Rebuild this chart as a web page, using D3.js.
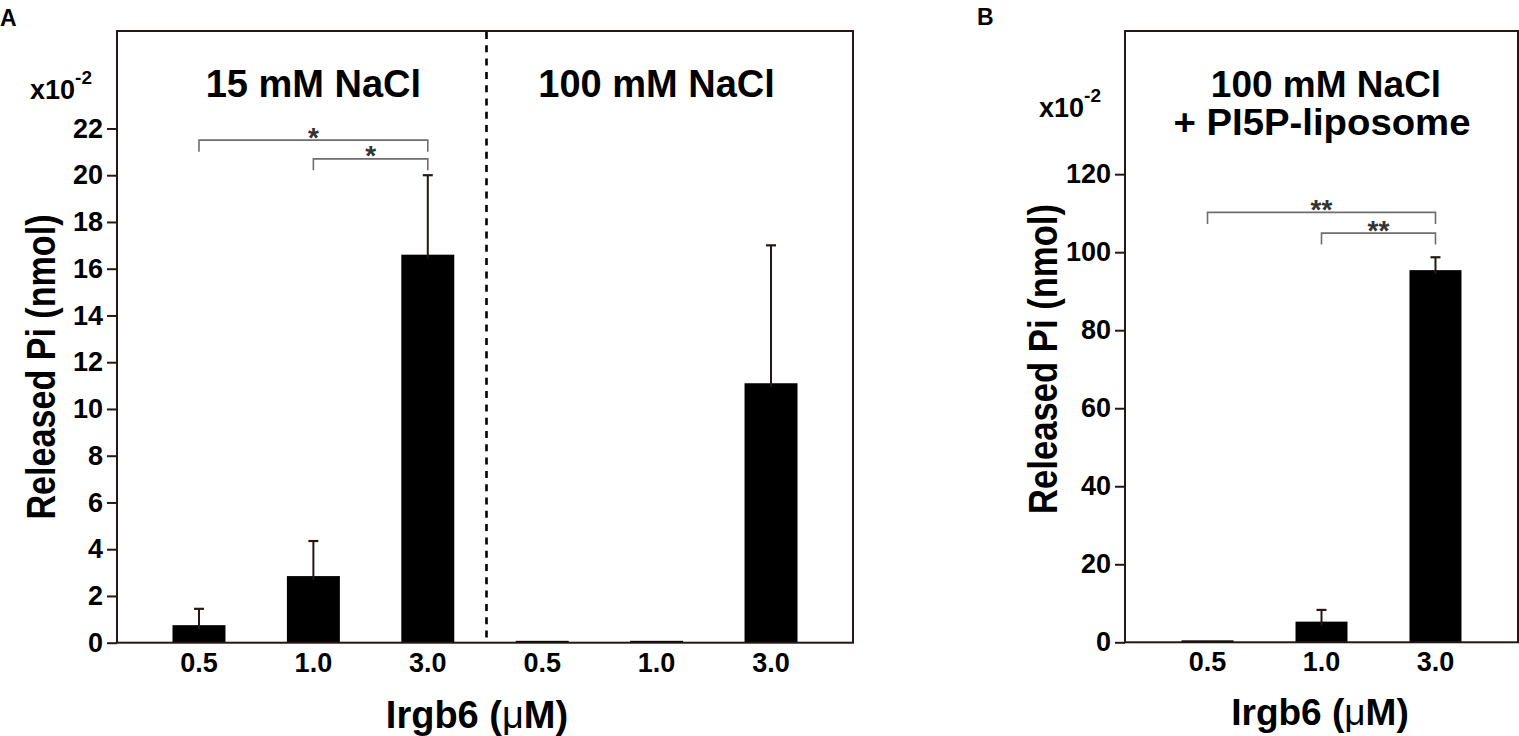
<!DOCTYPE html>
<html>
<head>
<meta charset="utf-8">
<script src="https://cdn.jsdelivr.net/npm/d3@7"></script>
<style>
  body { margin: 0; background: #fff; }
  text { font-family: Arial, "Liberation Sans", Helvetica, sans-serif; }
</style>
</head>
<body>
<svg id="fig" width="1519" height="736"></svg>
<script>
// panel A data (x10^-2 nmol)
const groupsA = ["15 mM NaCl", "15 mM NaCl", "15 mM NaCl", "100 mM NaCl", "100 mM NaCl", "100 mM NaCl"];
const dosesA = ["0.5", "1.0", "3.0", "0.5", "1.0", "3.0"];
const meanA = [0.75, 2.85, 16.6, 0.08, 0.08, 11.1];
const sdA = [0.7, 1.5, 3.4, 0, 0, 5.9];
const ticksA = [0, 2, 4, 6, 8, 10, 12, 14, 16, 18, 20, 22];
const bracketFromA = [0, 1];
const bracketToA = [2, 2];
const bracketLevelA = [21.5, 20.7];
const bracketLabelA = ["*", "*"];

// panel B data
const dosesB = ["0.5", "1.0", "3.0"];
const meanB = [0.5, 5.3, 95.4];
const sdB = [0, 3.0, 3.3];
const ticksB = [0, 20, 40, 60, 80, 100, 120];
const bracketFromB = [0, 1];
const bracketToB = [2, 2];
const bracketLevelB = [110.2, 104.9];
const bracketLabelB = ["**", "**"];

const ink = "#231815";
const svg = d3.select("#fig");

function panel(o) {
  const keys = o.doses.map((d, i) => i);
  const x = d3.scaleBand().domain(keys).range([o.left, o.right])
    .paddingInner(o.padIn).paddingOuter(o.padOut);
  const y = d3.scaleLinear().domain([0, o.ymax]).range([o.bottom, o.top]);
  const g = svg.append("g");

  // bars
  g.selectAll("rect.bar").data(o.mean).join("rect")
    .attr("class", "bar")
    .attr("x", (d, i) => x(i))
    .attr("width", x.bandwidth())
    .attr("y", d => y(d))
    .attr("height", d => y(0) - y(d))
    .attr("fill", "#000");

  // error bars (upper only)
  const eb = g.selectAll("g.err").data(o.mean.map((m, i) => [i, m, o.sd[i]]).filter(d => d[2] > 0))
    .join("g").attr("class", "err");
  eb.append("line")
    .attr("x1", d => x(d[0]) + x.bandwidth() / 2).attr("x2", d => x(d[0]) + x.bandwidth() / 2)
    .attr("y1", d => y(d[1]) + 4).attr("y2", d => y(d[1] + d[2]))
    .attr("stroke", ink).attr("stroke-width", 2);
  eb.append("line")
    .attr("x1", d => x(d[0]) + x.bandwidth() / 2 - 5).attr("x2", d => x(d[0]) + x.bandwidth() / 2 + 5)
    .attr("y1", d => y(d[1] + d[2])).attr("y2", d => y(d[1] + d[2]))
    .attr("stroke", ink).attr("stroke-width", 2.2);

  // frame
  g.append("rect")
    .attr("x", o.left).attr("y", o.top)
    .attr("width", o.right - o.left).attr("height", o.bottom - o.top)
    .attr("fill", "none").attr("stroke", ink).attr("stroke-width", 2);

  // y axis
  const ya = g.append("g").attr("transform", `translate(${o.left},0)`)
    .call(d3.axisLeft(y).tickValues(o.ticks).tickFormat(d3.format("d")).tickSize(10).tickPadding(4));
  ya.select(".domain").remove();
  ya.selectAll("line").attr("stroke", ink).attr("stroke-width", 2);
  ya.selectAll("text").attr("font-size", 27).attr("font-weight", "bold").attr("fill", "#000")
    .attr("font-family", "Arial, 'Liberation Sans', sans-serif");

  // x axis labels
  const xa = g.append("g").attr("transform", `translate(0,${o.bottom})`)
    .call(d3.axisBottom(x).tickSize(0).tickPadding(10).tickFormat(i => o.doses[i]));
  xa.select(".domain").remove();
  xa.selectAll("text").attr("font-size", 27).attr("font-weight", "bold").attr("fill", "#000")
    .attr("font-family", "Arial, 'Liberation Sans', sans-serif");

  // significance brackets
  o.bFrom.forEach((f, k) => {
    const x1 = x(f) + x.bandwidth() / 2, x2 = x(o.bTo[k]) + x.bandwidth() / 2;
    const yl = y(o.bLevel[k]);
    g.append("path")
      .attr("d", `M${x1},${yl + 11.5}V${yl}H${x2}V${yl + 11.5}`)
      .attr("fill", "none").attr("stroke", "#6e6e6e").attr("stroke-width", 1.6);
    g.append("text")
      .attr("x", (x1 + x2) / 2).attr("y", yl - 8 + 0.52 * 28)
      .attr("text-anchor", "middle").attr("font-size", 28).attr("font-weight", "bold").attr("fill", "#333")
      .text(o.bLabel[k]);
  });

  // y axis title
  g.append("text")
    .attr("transform", `translate(${o.ylabX},${o.ylabY}) rotate(-90)`)
    .attr("text-anchor", "middle").attr("font-size", 41).attr("font-weight", "bold")
    .attr("textLength", o.ylabLen).attr("lengthAdjust", "spacingAndGlyphs")
    .text("Released Pi (nmol)");

  // exponent note
  const ex = g.append("text").attr("x", o.expX).attr("y", o.expY)
    .attr("font-size", 27).attr("font-weight", "bold");
  ex.append("tspan").text("x10");
  ex.append("tspan").attr("dy", -15).attr("font-size", 19).text("-2");

  // x axis title
  const xt = g.append("text").attr("x", o.xlabX).attr("y", o.xlabY)
    .attr("text-anchor", "middle").attr("font-size", o.xlabSize).attr("font-weight", "bold");
  xt.append("tspan").text("Irgb6 (");
  xt.append("tspan").attr("font-weight", "normal").text("\u03bc");
  xt.append("tspan").text("M)");

  return { x, y, g };
}

const A = panel({
  doses: dosesA, mean: meanA, sd: sdA, ticks: ticksA, ymax: 26.17,
  left: 117, right: 853, top: 31, bottom: 642.7, padIn: 0.537, padOut: 0.485,
  bFrom: bracketFromA, bTo: bracketToA, bLevel: bracketLevelA, bLabel: bracketLabelA,
  ylabX: 55, ylabY: 367, ylabLen: 305, expX: 30, expY: 99,
  xlabX: 477, xlabY: 728, xlabSize: 38
});

// dashed divider between salt conditions
A.g.append("line")
  .attr("x1", 486.5).attr("x2", 486.5).attr("y1", 32).attr("y2", 642)
  .attr("stroke", "#000").attr("stroke-width", 2.6).attr("stroke-dasharray", "7,6.3");

// condition titles, centred over their three bars
const titlesA = ["15 mM NaCl", "100 mM NaCl"];
titlesA.forEach((t, k) => {
  const cx = A.x(k * 3 + 1) + A.x.bandwidth() / 2;
  A.g.append("text").attr("x", cx).attr("y", 97)
    .attr("text-anchor", "middle").attr("font-size", 38).attr("font-weight", "bold").text(t);
});

const B = panel({
  doses: dosesB, mean: meanB, sd: sdB, ticks: ticksB, ymax: 156.7,
  left: 1125, right: 1518, top: 31, bottom: 642.3, padIn: 0.544, padOut: 0.496,
  bFrom: bracketFromB, bTo: bracketToB, bLevel: bracketLevelB, bLabel: bracketLabelB,
  ylabX: 1057, ylabY: 359, ylabLen: 310, expX: 1039, expY: 117,
  xlabX: 1320, xlabY: 725, xlabSize: 37
});

const titleB = ["100 mM NaCl", "+ PI5P-liposome"];
B.g.append("text").attr("x", 1326).attr("y", 97)
  .attr("text-anchor", "middle").attr("font-size", 37).attr("font-weight", "bold").text(titleB[0]);
B.g.append("text").attr("x", 1322).attr("y", 135)
  .attr("text-anchor", "middle").attr("font-size", 36).attr("font-weight", "bold")
  .attr("textLength", 297).attr("lengthAdjust", "spacingAndGlyphs").text(titleB[1]);

// panel letters
svg.append("text").attr("x", 0).attr("y", 26).attr("font-size", 23).attr("font-weight", "bold").text("A");
svg.append("text").attr("x", 977).attr("y", 25).attr("font-size", 23).attr("font-weight", "bold").text("B");
</script>
</body>
</html>
